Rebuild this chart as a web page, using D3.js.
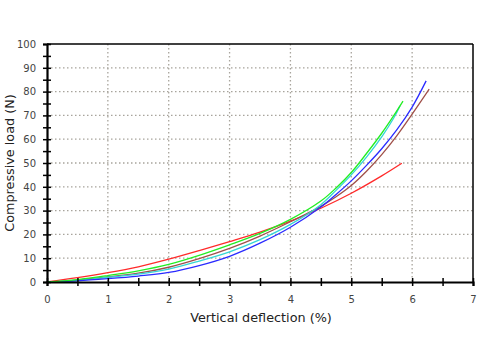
<!DOCTYPE html>
<html><head><meta charset="utf-8">
<script src="https://cdn.jsdelivr.net/npm/d3@7"></script>
<style>html,body{margin:0;padding:0;background:#fff;}svg{display:block;}</style>
</head><body>
<svg id="c" width="480" height="360"></svg>
<script>
// Data
const xTicks = [0,0.5,1,1.5,2,2.5,3,3.5,4,4.5,5,5.5,6,6.5,7];
const xLabels = [0,1,2,3,4,5,6,7];
const yTicks = [0,5,10,15,20,25,30,35,40,45,50,55,60,65,70,75,80,85,90,95,100];
const yLabels = [0,10,20,30,40,50,60,70,80,90,100];
const xTitle = "Vertical deflection (%)";
const yTitle = "Compressive load (N)";

const redX   = [0,0.5,1,1.5,2,2.5,3,3.5,4,4.5,5,5.5,5.83];
const redY   = [0,1.8,3.9,6.4,9.6,13.2,17.0,21.0,25.6,31,37.3,44.6,49.9];
const greenX = [0,0.5,1,1.5,2,2.5,3,3.5,4,4.5,4.75,5,5.25,5.5,5.7,5.85];
const greenY = [0,1.0,2.7,4.7,7.4,11.2,15.6,20.4,26.3,34,39.5,46,54,62.5,70,76];
const brownX = [0,0.5,1,1.5,2,2.5,3,3.5,4,4.5,4.75,5,5.25,5.5,5.75,6,6.28];
const brownY = [0,0.8,2.1,3.7,6.2,9.8,14.1,19.3,25.3,31.8,35.8,40.5,46.5,53.5,61.5,70.5,81];
const cyanX  = [0,0.5,1,1.5,2,2.5,3,3.5,4,4.5,4.75,5,5.25,5.5,5.7,5.8];
const cyanY  = [0,0.7,2.0,3.3,5.4,8.8,12.7,17.8,24.2,32.5,38.5,45,52.5,61,69,74];
const blueX  = [0,0.5,1,1.5,2,2.5,3,3.5,4,4.5,4.75,5,5.25,5.5,5.75,6,6.23];
const blueY  = [0,0.5,1.4,2.5,4.0,6.9,10.8,16.3,23,31.5,36.8,42.5,49,56,64,73.5,84.5];

const series = [
  {x: redX, y: redY, color: "#ff2a2a"},
  {x: brownX, y: brownY, color: "#a0504a"},
  {x: cyanX, y: cyanY, color: "#33d6d6"},
  {x: blueX, y: blueY, color: "#2a2aff"},
  {x: greenX, y: greenY, color: "#22ee22"}
];

const svg = d3.select("#c");
const L = 47, R = 473, T = 44, B = 282;
const x = d3.scaleLinear().domain([0,7]).range([L,R]);
const y = d3.scaleLinear().domain([0,100]).range([B,T]);

svg.append("rect").attr("width",480).attr("height",360).attr("fill","#fff");

// grid
const grid = svg.append("g").attr("stroke","#a8a49c").attr("stroke-width",1.3).attr("stroke-dasharray","1.5,2.5");
grid.selectAll(".gx").data(xLabels.slice(1,-1)).join("line")
  .attr("x1",d=>x(d)).attr("x2",d=>x(d)).attr("y1",T).attr("y2",B);
grid.selectAll(".gy").data(yLabels.slice(1,-1)).join("line")
  .attr("x1",L).attr("x2",R).attr("y1",d=>y(d)).attr("y2",d=>y(d));

// border top/right
svg.append("line").attr("x1",L).attr("x2",R).attr("y1",T).attr("y2",T).attr("stroke","#000").attr("stroke-width",1.5);
svg.append("line").attr("x1",R).attr("x2",R).attr("y1",T).attr("y2",B).attr("stroke","#000").attr("stroke-width",1.5);

// series
const line = d3.line().x(d=>x(d[0])).y(d=>y(d[1])).curve(d3.curveCatmullRom.alpha(0.5));
series.forEach(s=>{
  svg.append("path").datum(s.x.map((v,i)=>[v,s.y[i]]))
    .attr("d",line).attr("fill","none").attr("stroke",s.color).attr("stroke-width",1.3);
});

// axes
const fx = d => xLabels.includes(d) ? String(d) : "";
const fy = d => yLabels.includes(d) ? String(d) : "";
const xa = svg.append("g").attr("transform",`translate(0,${B})`)
  .call(d3.axisBottom(x).tickValues(xTicks).tickFormat(fx).tickSize(4).tickPadding(10));
const ya = svg.append("g").attr("transform",`translate(${L},0)`)
  .call(d3.axisLeft(y).tickValues(yTicks).tickFormat(fy).tickSize(4).tickPadding(7));
xa.selectAll(".tick line").attr("y1",-4).attr("y2",4).attr("stroke-width",1.5);
ya.selectAll(".tick line").attr("x1",-4).attr("x2",4).attr("stroke-width",1.5);
[xa,ya].forEach(a=>{
  a.select(".domain").attr("stroke","#000").attr("stroke-width",2.2);
  a.selectAll("text").attr("font-family","DejaVu Sans, Verdana, sans-serif").attr("font-size",10).attr("fill","#444");
});

svg.append("text").attr("x",(L+R)/2+1).attr("y",322).attr("text-anchor","middle")
  .attr("font-family","DejaVu Sans, Verdana, sans-serif").attr("font-size",12.8).attr("fill","#222").text(xTitle);
svg.append("text").attr("transform",`translate(14,${(T+B)/2}) rotate(-90)`).attr("text-anchor","middle")
  .attr("font-family","DejaVu Sans, Verdana, sans-serif").attr("font-size",12.8).attr("fill","#222").text(yTitle);
</script>
</body></html>
